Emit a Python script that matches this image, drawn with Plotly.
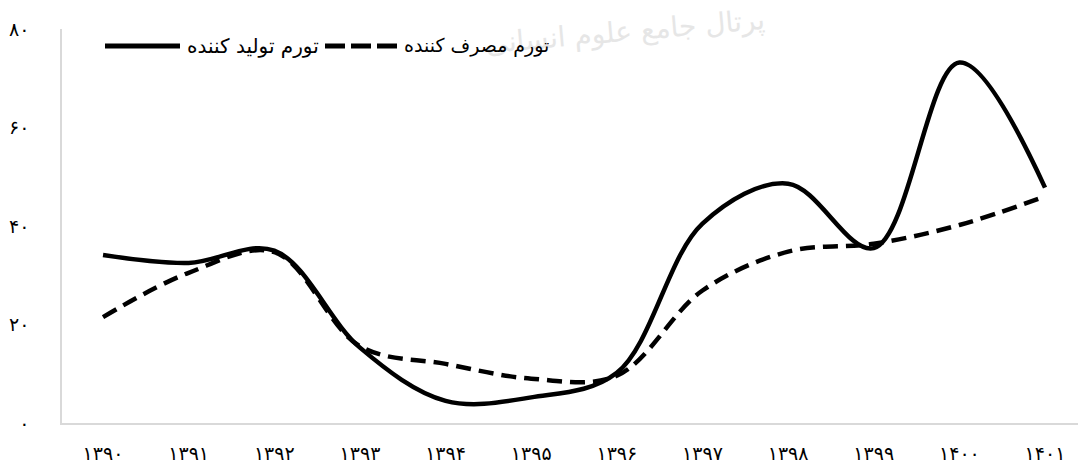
import plotly.graph_objects as go

# Years (Solar Hijri) and inflation rates (%)
years = ["۱۳۹۰", "۱۳۹۱", "۱۳۹۲", "۱۳۹۳", "۱۳۹۴", "۱۳۹۵",
         "۱۳۹۶", "۱۳۹۷", "۱۳۹۸", "۱۳۹۹", "۱۴۰۰", "۱۴۰۱"]
producer_inflation = [34.1, 32.5, 35.0, 15.3, 4.5, 5.2, 10.2, 40.5, 48.6, 35.5, 73.2, 47.8]
consumer_inflation = [21.5, 30.5, 34.7, 15.6, 12.0, 9.0, 9.6, 26.9, 34.8, 36.4, 40.2, 46.0]

producer_name = "تورم تولید کننده"
consumer_name = "تورم مصرف کننده"

y_ticks = [0, 20, 40, 60, 80]
y_tick_text = ["۰", "۲۰", "۴۰", "۶۰", "۸۰"]

FONT = "DejaVu Sans"
W, H = 1078, 463
ML, MR, MT, MB = 62, 0, 29, 40

xpos = list(range(len(years)))

fig = go.Figure()
fig.add_trace(go.Scatter(
    x=xpos, y=consumer_inflation, name=consumer_name, mode="lines",
    line=dict(color="black", width=4.5, dash="15px,8px", shape="spline", smoothing=1.0),
))
fig.add_trace(go.Scatter(
    x=xpos, y=producer_inflation, name=producer_name, mode="lines",
    line=dict(color="black", width=4.5, shape="spline", smoothing=1.0),
))

plot_w = W - ML - MR
plot_h = H - MT - MB


def px_x(p):
    return (p - ML) / plot_w


def px_y(p):
    return (H - MB - p) / plot_h


# Faint watermark at the top (drawn first so the legend sits above it)
fig.add_annotation(text="پرتال جامع علوم انسانی", xref="paper", yref="paper",
                   x=px_x(625), y=px_y(32), xanchor="center", yanchor="middle",
                   showarrow=False, textangle=-5,
                   font=dict(family=FONT, size=28, color="#e6e6e6"))

# Legend drawn as line samples followed by labels
legend_y = 46
fig.add_shape(type="line", xref="paper", yref="paper",
              x0=px_x(105), x1=px_x(180), y0=px_y(legend_y), y1=px_y(legend_y),
              line=dict(color="black", width=5))
fig.add_shape(type="line", xref="paper", yref="paper",
              x0=px_x(325), x1=px_x(397), y0=px_y(legend_y), y1=px_y(legend_y),
              line=dict(color="black", width=5, dash="20px,6px"))
fig.add_annotation(text=producer_name, xref="paper", yref="paper",
                   x=px_x(185), y=px_y(legend_y), xanchor="left", yanchor="middle",
                   showarrow=False, font=dict(family=FONT, size=20, color="black"))
fig.add_annotation(text=consumer_name, xref="paper", yref="paper",
                   x=px_x(402), y=px_y(legend_y), xanchor="left", yanchor="middle",
                   showarrow=False, font=dict(family=FONT, size=19, color="black"))

fig.update_layout(
    width=W, height=H,
    margin=dict(l=ML, r=MR, t=MT, b=MB),
    paper_bgcolor="white", plot_bgcolor="white",
    showlegend=False,
    font=dict(family=FONT, color="black"),
)
fig.update_xaxes(
    range=[-0.479, 11.385], tickvals=xpos, ticktext=years,
    showgrid=False, zeroline=False, showline=True, linecolor="#d9d9d9", linewidth=1.5,
    ticks="", tickfont=dict(family=FONT, size=19, color="black"), ticklabelstandoff=12,
)
fig.update_yaxes(
    range=[0, 80], tickvals=y_ticks, ticktext=y_tick_text,
    showgrid=False, zeroline=False, showline=True, linecolor="#d9d9d9", linewidth=1.5,
    ticks="", tickfont=dict(family=FONT, size=19, color="black"), ticklabelstandoff=27,
)

fig.write_html("out.html")
